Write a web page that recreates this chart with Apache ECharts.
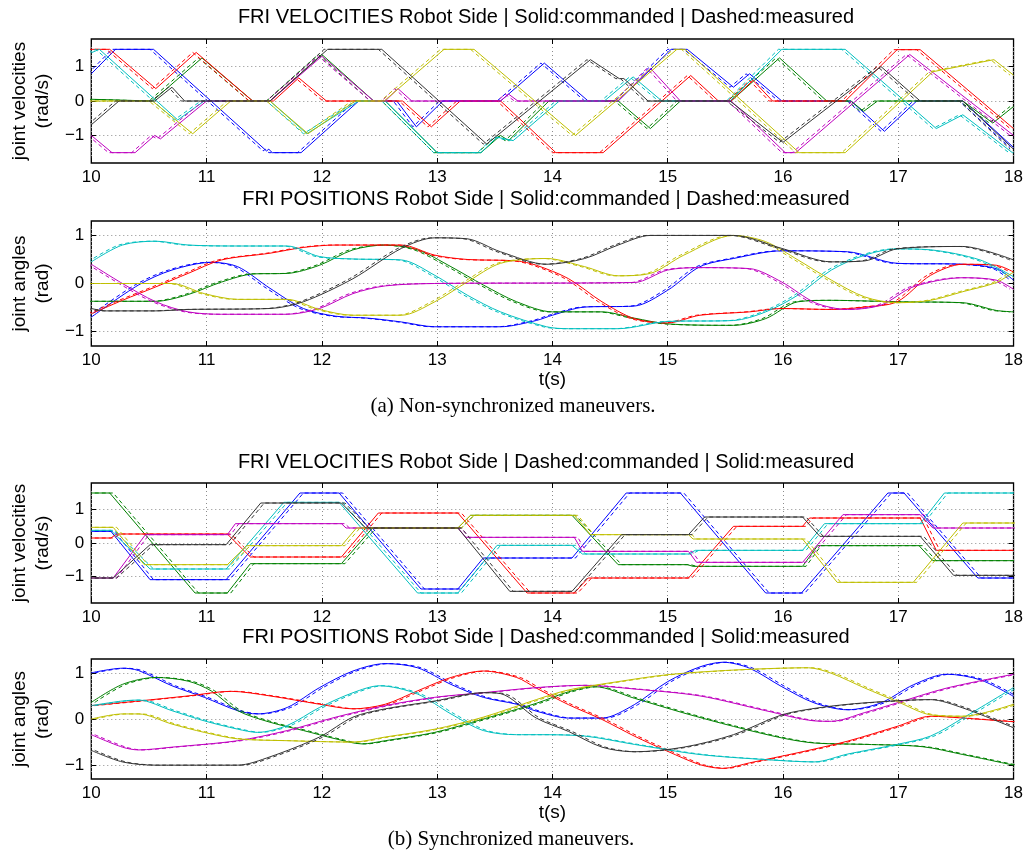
<!DOCTYPE html>
<html style="height: 100%">
<head>
<meta charset="utf-8">
<script src="https://cdn.jsdelivr.net/npm/echarts/dist/echarts.min.js"></script>
<style>
  html, body { margin: 0; height: 100%; background: #fff; }
</style>
</head>
<body>
<div id="container" style="width:1026px;height:855px"></div>
<script>
// ---- axis ticks / ranges ----
var xTicks = [10, 11, 12, 13, 14, 15, 16, 17, 18];
var yTicks = [-1, 0, 1];
var velRange = [-1.8, 1.8];
var posRange = [-1.3, 1.3];

// time offset of the dashed curve against the solid one
var lagA = -0.03;
var lagB = 0.03;

// ---- (a) non-synchronized : velocities [t, rad/s] ----
var aVelBlue = [[10,0.79],[10.21,1.5],[10.54,1.5],[11.52,-1.45],[11.54,-1.4],[11.57,-1.5],[11.82,-1.5],[12.32,0],[12.65,0],[12.82,-0.75],[13.05,0],[13.55,0],[13.93,1.1],[14.31,0],[14.57,0],[15.03,1.5],[15.17,1.5],[15.57,0.4],[15.71,0.79],[15.99,0],[16.59,0],[16.88,-0.88],[17.16,0],[17.56,0],[18,-1.35]];
var aVelGreen = [[10,0.05],[10.53,0],[10.96,1.25],[11.4,0],[11.55,0],[12.0,1.35],[12.45,0],[12.55,0],[13.0,-1.5],[13.38,-1.5],[13.55,-1.0],[13.62,-1.15],[13.97,0],[14.57,0],[14.85,-0.8],[15.11,0],[15.55,0],[15.97,1.25],[16.38,0],[16.59,0],[16.7,-0.3],[16.82,0],[17.56,0],[17.82,-0.64],[18,-0.16]];
var aVelRed = [[10,1.5],[10.16,1.5],[10.56,0.36],[10.91,1.41],[11.4,0],[11.58,0],[11.8,0.67],[12.04,0],[12.7,0],[12.95,-0.75],[13.2,0],[13.55,0],[14.03,-1.5],[14.44,-1.5],[15.2,0.74],[15.44,0],[15.55,0],[15.74,0.6],[15.91,0],[16.54,0],[16.99,1.49],[17.19,1.49],[18,-0.8]];
var aVelCyan = [[10,1.4],[10.07,1.5],[10.75,-0.55],[10.98,0],[11.55,0],[11.87,-0.95],[12.32,0],[12.55,0],[13.0,-1.5],[13.38,-1.5],[13.52,-1.05],[13.66,-1.15],[14.06,0],[14.45,0],[14.7,0.7],[14.95,0],[15.54,0],[15.99,1.5],[16.54,1.5],[17.33,-0.8],[17.56,-0.4],[17.99,-1.5],[18,-1.5]];
var aVelMagenta = [[10,-1.0],[10.18,-1.5],[10.38,-1.5],[10.55,-1.0],[10.6,-1.1],[11.0,0],[11.55,0],[12.0,1.3],[12.45,0],[12.55,0],[12.66,0.36],[12.78,0],[13.55,0],[13.62,0.2],[13.7,0],[14.57,0],[14.85,0.95],[15.11,0],[15.55,0],[16.02,-1.5],[16.11,-1.5],[17.1,1.35],[18,-1.0]];
var aVelYellow = [[10,0],[10.53,0],[10.88,-0.95],[11.21,0],[11.55,0],[11.88,-0.95],[12.29,0],[12.54,0],[13.06,1.5],[13.32,1.5],[14.2,-1.0],[15.08,1.5],[15.15,1.5],[16.14,-1.5],[16.54,-1.5],[17.3,0.85],[17.83,1.2],[18,0.75]];
var aVelBlack = [[10,-0.69],[10.24,0],[10.55,0],[10.7,0.4],[10.81,0],[11.55,0],[12.05,1.5],[12.52,1.5],[13.43,-1.25],[14.33,1.2],[14.58,0.65],[14.62,0.65],[14.83,0],[15.54,0],[16.0,-1.2],[16.85,1.0],[17.19,0],[17.56,0],[18,-1.4]];

// ---- (a) non-synchronized : positions [t, rad] ----
var aPosBlue = [[10,-0.7],[10.41,-0.03],[10.7,0.28],[11.04,0.44],[11.27,0.35],[11.55,-0.1],[11.84,-0.52],[12.12,-0.68],[12.4,-0.72],[12.69,-0.8],[12.98,-0.9],[13.55,-0.9],[13.86,-0.77],[14,-0.66],[14.28,-0.49],[14.71,-0.47],[15,-0.14],[15.28,0.35],[15.57,0.52],[15.99,0.68],[16.56,0.66],[16.99,0.42],[17.56,0.4],[17.85,0.31],[18,0.07]];
var aPosGreen = [[10,-0.37],[10.56,-0.37],[10.84,-0.23],[11.13,0.03],[11.41,0.2],[11.7,0.21],[11.98,0.38],[12.27,0.7],[12.55,0.8],[12.83,0.7],[13.12,0.35],[13.4,-0.03],[13.69,-0.38],[14,-0.59],[14.43,-0.59],[14.71,-0.72],[15,-0.84],[15.57,-0.87],[15.85,-0.73],[16.13,-0.38],[16.42,-0.35],[16.99,-0.38],[17.56,-0.4],[17.85,-0.56],[18,-0.59]];
var aPosRed = [[10,-0.63],[10.27,-0.35],[10.56,-0.07],[10.84,0.21],[11.13,0.49],[11.55,0.63],[11.84,0.75],[12.12,0.8],[12.69,0.8],[12.98,0.59],[13.26,0.5],[13.69,0.47],[13.86,0.38],[14.14,0.1],[14.43,-0.38],[14.71,-0.73],[15,-0.82],[15.28,-0.66],[15.71,-0.59],[15.99,-0.52],[16.42,-0.54],[16.71,-0.49],[16.99,-0.38],[17.28,0.17],[17.56,0.4],[17.85,0.38],[18,0.24]];
var aPosCyan = [[10,0.45],[10.27,0.8],[10.56,0.88],[10.84,0.8],[11.27,0.78],[11.7,0.78],[11.98,0.56],[12.27,0.51],[12.69,0.49],[12.98,0.17],[13.26,-0.24],[13.55,-0.59],[13.95,-0.9],[14.14,-0.94],[14.57,-0.94],[15,-0.79],[15.57,-0.77],[15.85,-0.59],[16.13,-0.24],[16.42,0.28],[16.71,0.59],[16.99,0.72],[17.28,0.7],[17.71,0.49],[18,0.14]];
var aPosMagenta = [[10,0.4],[10.27,0],[10.56,-0.38],[10.84,-0.59],[11.13,-0.64],[11.7,-0.64],[11.98,-0.52],[12.27,-0.21],[12.55,-0.05],[12.98,0],[14.71,0.02],[15,0.28],[15.28,0.33],[15.71,0.31],[15.99,0.03],[16.28,-0.4],[16.56,-0.54],[16.85,-0.45],[17.13,-0.07],[17.56,0.12],[17.85,0.07],[18,-0.12]];
var aPosYellow = [[10,0],[10.7,0],[10.98,-0.21],[11.27,-0.33],[11.7,-0.33],[11.98,-0.54],[12.27,-0.66],[12.69,-0.66],[12.98,-0.38],[13.26,0.03],[13.55,0.42],[13.95,0.52],[14.28,0.35],[14.57,0.16],[14.85,0.21],[15.14,0.59],[15.57,1.0],[15.85,0.87],[16.13,0.49],[16.42,0.07],[16.71,-0.28],[16.99,-0.4],[17.28,-0.35],[17.56,-0.17],[17.85,0.02],[18,0.24]];
var aPosBlack = [[10,-0.52],[10.13,-0.57],[10.56,-0.57],[10.84,-0.54],[11.55,-0.52],[11.84,-0.38],[12.27,0.1],[12.69,0.73],[12.98,0.95],[13.26,0.93],[13.55,0.66],[13.95,0.4],[14.28,0.52],[14.57,0.8],[14.85,1.0],[15.57,1.0],[15.99,0.73],[16.42,0.45],[16.71,0.47],[16.99,0.72],[17.56,0.77],[18,0.49]];

// ---- (b) synchronized : velocities ----
var bVelBlue = [[10,0.35],[10.17,0.35],[10.51,-1.1],[11.17,-1.1],[11.81,1.5],[12.15,1.5],[12.86,-1.38],[13.18,-1.38],[13.4,-0.45],[14.17,-0.45],[14.64,1.5],[15.11,1.5],[15.85,-1.5],[16.16,-1.5],[16.91,1.5],[17.05,1.5],[17.69,-1.05],[18,-1.05]];
var bVelGreen = [[10,1.5],[10.16,1.5],[10.9,-1.5],[11.18,-1.5],[11.38,-0.62],[12.17,-0.62],[12.44,0.45],[13.18,0.45],[13.29,0.83],[14.17,0.83],[14.57,-0.65],[15.17,-0.65],[15.22,-0.7],[16.17,-0.7],[16.3,-0.08],[17.18,-0.08],[17.3,-0.53],[18,-0.53]];
var bVelRed = [[10,0.15],[10.17,0.15],[10.22,0.27],[11.18,0.27],[11.38,-0.42],[12.17,-0.42],[12.49,0.9],[13.18,0.9],[13.78,-1.5],[14.19,-1.5],[14.31,-1.05],[15.18,-1.05],[15.57,0.5],[16.17,0.5],[16.23,0.75],[17.19,0.75],[17.33,-0.22],[18,-0.22]];
var bVelCyan = [[10,0.38],[10.17,0.38],[10.51,-0.78],[11.17,-0.78],[11.67,1.22],[12.15,1.22],[12.83,-1.5],[13.18,-1.5],[13.52,-0.07],[14.17,-0.07],[14.26,-0.33],[15.18,-0.33],[15.24,-0.22],[16.17,-0.22],[16.36,0.58],[17.19,0.58],[17.4,1.5],[18,1.5]];
var bVelMagenta = [[10,-1.05],[10.19,-1.05],[10.47,0.25],[11.18,0.25],[11.25,0.58],[12.17,0.58],[12.21,0.45],[13.18,0.45],[13.25,0.17],[14.19,0.17],[14.26,-0.25],[15.18,-0.25],[15.25,-0.58],[16.17,-0.58],[16.52,0.85],[17.19,0.85],[17.3,0.45],[18,0.45]];
var bVelYellow = [[10,0.47],[10.19,0.47],[10.46,-0.65],[11.18,-0.65],[11.35,-0.08],[12.17,-0.08],[12.3,0.45],[13.18,0.45],[13.29,0.83],[14.19,0.83],[14.33,0.25],[15.18,0.25],[15.22,0.12],[16.17,0.12],[16.47,-1.18],[17.13,-1.18],[17.56,0.6],[18,0.6]];
var bVelBlack = [[10,-1.05],[10.19,-1.05],[10.51,-0.05],[11.17,-0.05],[11.47,1.2],[12.17,1.2],[12.38,0.45],[13.18,0.45],[13.63,-1.45],[14.17,-1.45],[14.6,0.25],[15.18,0.25],[15.32,0.78],[16.17,0.78],[16.32,0.2],[17.19,0.2],[17.48,-0.97],[18,-0.97]];

// ---- (b) synchronized : positions ----
var bPosBlue = [[10,1.0],[10.27,1.1],[10.41,1.05],[10.7,0.72],[10.98,0.47],[11.27,0.18],[11.44,0.11],[11.7,0.25],[11.98,0.68],[12.27,1.04],[12.55,1.2],[12.83,1.11],[13.12,0.75],[13.4,0.47],[13.69,0.32],[13.86,0.17],[14.14,0.02],[14.43,0.02],[14.71,0.31],[15,0.81],[15.28,1.13],[15.48,1.23],[15.71,1.1],[15.99,0.7],[16.27,0.35],[16.56,0.2],[16.85,0.35],[17.13,0.74],[17.42,0.97],[17.71,0.85],[18,0.49]];
var bPosGreen = [[10,0.36],[10.27,0.75],[10.56,0.9],[10.84,0.82],[11.04,0.61],[11.27,0.18],[11.55,-0.07],[11.84,-0.25],[12.12,-0.43],[12.35,-0.54],[12.55,-0.47],[12.98,-0.29],[13.4,0.0],[13.86,0.34],[14.14,0.59],[14.37,0.7],[14.71,0.45],[15.14,0.13],[15.57,-0.16],[15.99,-0.41],[16.27,-0.52],[16.71,-0.55],[17.21,-0.6],[17.56,-0.77],[18,-1.0]];
var bPosRed = [[10,0.29],[10.41,0.39],[10.84,0.5],[11.21,0.6],[11.55,0.5],[11.98,0.32],[12.27,0.22],[12.55,0.32],[12.83,0.61],[13.12,0.9],[13.4,1.04],[13.69,0.9],[13.86,0.67],[14.14,0.31],[14.43,-0.01],[14.71,-0.37],[15,-0.7],[15.28,-0.99],[15.48,-1.07],[15.71,-0.95],[16.13,-0.73],[16.56,-0.48],[16.99,-0.16],[17.28,0.06],[17.56,0.02],[18,-0.06]];
var bPosCyan = [[10,0.29],[10.27,0.39],[10.41,0.41],[10.7,0.18],[10.98,-0.04],[11.27,-0.22],[11.44,-0.29],[11.7,-0.14],[11.98,0.25],[12.27,0.57],[12.5,0.72],[12.83,0.54],[13.12,0.11],[13.4,-0.25],[13.69,-0.34],[13.86,-0.34],[14.28,-0.37],[14.71,-0.55],[15.28,-0.77],[15.85,-0.88],[16.27,-0.93],[16.56,-0.76],[16.99,-0.55],[17.28,-0.37],[17.56,0.02],[18,0.68]];
var bPosMagenta = [[10,-0.34],[10.27,-0.61],[10.41,-0.67],[10.7,-0.61],[11.27,-0.47],[11.7,-0.25],[12.12,0.04],[12.55,0.29],[12.98,0.47],[13.4,0.57],[13.86,0.68],[14.28,0.73],[14.71,0.65],[15.28,0.5],[15.85,0.18],[16.27,-0.04],[16.42,-0.05],[16.71,0.14],[16.99,0.35],[17.42,0.67],[18,0.97]];
var bPosYellow = [[10,0],[10.27,0.11],[10.41,0.11],[10.7,-0.11],[10.98,-0.29],[11.27,-0.43],[11.7,-0.47],[12.27,-0.5],[12.55,-0.39],[12.98,-0.22],[13.4,0.04],[13.86,0.42],[14.14,0.63],[14.57,0.81],[15,0.96],[15.57,1.06],[16.22,1.11],[16.42,0.99],[16.71,0.67],[16.99,0.38],[17.28,0.09],[17.56,0.06],[18,0.32]];
var bPosBlack = [[10,-0.68],[10.27,-0.93],[10.56,-1.0],[11.27,-1.0],[11.55,-0.82],[11.98,-0.39],[12.27,0.04],[12.55,0.22],[12.98,0.39],[13.4,0.57],[13.55,0.55],[13.86,0.02],[14.14,-0.27],[14.43,-0.61],[14.71,-0.71],[15.14,-0.61],[15.57,-0.34],[15.99,0.09],[16.33,0.25],[16.71,0.35],[17.28,0.42],[17.56,0.24],[18,-0.19]];

var jointColors = ['#0000ff', '#008000', '#ff0000', '#00bfbf', '#bf00bf', '#bfbf00', '#333333'];

var sansFont = '"Liberation Sans", Arial, sans-serif';
var serifFont = '"Liberation Serif", "Times New Roman", serif';

var panels = [
	{ title: 'FRI VELOCITIES Robot Side | Solid:commanded | Dashed:measured', yName: 'joint velocities\n(rad/s)', range: velRange, lag: lagA, smooth: false, xName: '', nameGap: 15,
	  curves: [aVelBlue, aVelGreen, aVelRed, aVelCyan, aVelMagenta, aVelYellow, aVelBlack], top: 39, height: 124, titleTop: 7 },
	{ title: 'FRI POSITIONS Robot Side | Solid:commanded | Dashed:measured', yName: 'joint angles\n(rad)', range: posRange, lag: lagA, smooth: 0.3, xName: 't(s)', nameGap: 13,
	  curves: [aPosBlue, aPosGreen, aPosRed, aPosCyan, aPosMagenta, aPosYellow, aPosBlack], top: 221, height: 125, titleTop: 189 },
	{ title: 'FRI VELOCITIES Robot Side | Dashed:commanded | Solid:measured', yName: 'joint velocities\n(rad/s)', range: velRange, lag: lagB, smooth: false, xName: '', nameGap: 15,
	  curves: [bVelBlue, bVelGreen, bVelRed, bVelCyan, bVelMagenta, bVelYellow, bVelBlack], top: 483, height: 120, titleTop: 452 },
	{ title: 'FRI POSITIONS Robot Side | Dashed:commanded | Solid:measured', yName: 'joint angles\n(rad)', range: posRange, lag: lagB, smooth: 0.3, xName: 't(s)', nameGap: 20,
	  curves: [bPosBlue, bPosGreen, bPosRed, bPosCyan, bPosMagenta, bPosYellow, bPosBlack], top: 659, height: 120, titleTop: 627 }
];

function minusFmt(v) {
	return v < 0 ? '\u2212' + (-v) : String(v);
}

var grids = [], xAxes = [], yAxes = [], series = [], titles = [];

panels.forEach(function (p, i) {
	grids.push({ left: 78, right: 11, top: p.top, height: p.height, show: true, borderColor: '#000', borderWidth: 1.3, backgroundColor: 'transparent' });
	titles.push({ text: p.title, left: 546, top: p.titleTop, textAlign: 'center', padding: 0,
		textStyle: { fontFamily: sansFont, fontSize: 20, fontWeight: 'normal', color: '#000' } });

	// bottom x axis with labels and dotted grid
	xAxes.push({
		type: 'value', gridIndex: i, min: xTicks[0], max: xTicks[xTicks.length - 1], interval: 1, position: 'bottom',
		name: p.xName, nameLocation: 'middle', nameGap: p.nameGap,
		nameTextStyle: { fontFamily: sansFont, fontSize: 19, color: '#000' },
		axisLine: { show: false, onZero: false },
		axisTick: { show: true, inside: true, length: 5, lineStyle: { color: '#000', width: 1 } },
		axisLabel: { fontFamily: sansFont, fontSize: 17, color: '#000', margin: 6 },
		splitLine: { show: true, lineStyle: { color: '#8c8c8c', width: 1, type: [1, 3] } }
	});
	// top x axis, ticks only
	xAxes.push({
		type: 'value', gridIndex: i, min: xTicks[0], max: xTicks[xTicks.length - 1], interval: 1, position: 'top',
		axisLine: { show: false, onZero: false },
		axisTick: { show: true, inside: true, length: 5, lineStyle: { color: '#000', width: 1 } },
		axisLabel: { show: false }, splitLine: { show: false }
	});
	yAxes.push({
		type: 'value', gridIndex: i, min: p.range[0], max: p.range[1], position: 'left',
		name: p.yName, nameLocation: 'middle', nameRotate: 90, nameGap: 28,
		nameTextStyle: { fontFamily: sansFont, fontSize: 19, lineHeight: 23, color: '#000' },
		axisLine: { show: false, onZero: false },
		axisTick: { show: true, inside: true, length: 5, customValues: yTicks, lineStyle: { color: '#000', width: 1 } },
		axisLabel: { fontFamily: sansFont, fontSize: 17, color: '#000', margin: 7, customValues: yTicks, formatter: minusFmt },
		splitLine: { show: true, lineStyle: { color: '#8c8c8c', width: 1, type: [1, 3] } }
	});
	yAxes.push({
		type: 'value', gridIndex: i, min: p.range[0], max: p.range[1], position: 'right',
		axisLine: { show: false, onZero: false },
		axisTick: { show: true, inside: true, length: 5, customValues: yTicks, lineStyle: { color: '#000', width: 1 } },
		axisLabel: { show: false }, splitLine: { show: false }
	});

	p.curves.forEach(function (pts, k) {
		var c = jointColors[k];
		series.push({
			type: 'line', xAxisIndex: i * 2, yAxisIndex: i * 2, data: pts,
			symbol: 'none', smooth: p.smooth, silent: true,
			lineStyle: { color: c, width: 1 }
		});
		series.push({
			type: 'line', xAxisIndex: i * 2, yAxisIndex: i * 2,
			data: pts.map(function (q) { return [q[0] + p.lag, q[1]]; }),
			symbol: 'none', smooth: p.smooth, silent: true,
			lineStyle: { color: c, width: 1, type: [4, 3] }
		});
	});
});

titles.push({ text: '(a) Non-synchronized maneuvers.', left: 513, top: 396, textAlign: 'center', padding: 0,
	textStyle: { fontFamily: serifFont, fontSize: 21, fontWeight: 'normal', color: '#000' } });
titles.push({ text: '(b) Synchronized maneuvers.', left: 511, top: 829, textAlign: 'center', padding: 0,
	textStyle: { fontFamily: serifFont, fontSize: 21, fontWeight: 'normal', color: '#000' } });

var dom = document.getElementById('container');
var myChart = echarts.init(dom, null, { renderer: 'canvas' });
var option = {
	animation: false,
	backgroundColor: '#fff',
	title: titles,
	grid: grids,
	xAxis: xAxes,
	yAxis: yAxes,
	series: series
};
myChart.setOption(option, true);
window.onresize = function () {
	myChart.resize();
};
</script>
</body>
</html>
